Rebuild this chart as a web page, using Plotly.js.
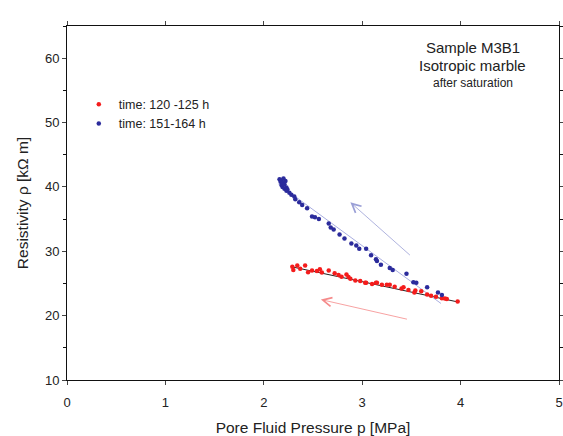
<!DOCTYPE html>
<html>
<head>
<meta charset="utf-8">
<script src="https://cdn.plot.ly/plotly-3.0.1.min.js"></script>
<style>
html,body{margin:0;padding:0;background:#fff;}
#chart{width:563px;height:436px;}
</style>
</head>
<body>
<div id="chart"></div>
<script>
// Series: time 120-125 h (red)
const redX = [2.29,2.30,2.34,2.37,2.42,2.45,2.49,2.54,2.57,2.59,2.66,2.72,2.76,2.79,2.84,2.86,2.88,2.93,2.98,3.03,3.04,3.10,3.14,3.15,3.20,3.25,3.28,3.33,3.40,3.42,3.47,3.53,3.54,3.60,3.66,3.70,3.75,3.81,3.84,3.86,3.97];
const redY = [27.6,27.1,27.8,27.3,27.8,26.75,27.0,26.95,27.2,26.7,27.0,26.6,26.3,26.05,26.4,26.0,25.75,25.45,25.4,25.1,25.1,24.9,25.1,25.1,24.8,24.8,24.8,24.5,24.2,24.4,24.0,23.6,23.9,23.8,23.3,23.1,22.95,22.7,22.65,22.6,22.2];
// Series: time 151-164 h (blue)
const blueX = [2.16,2.17,2.18,2.18,2.19,2.19,2.20,2.21,2.21,2.22,2.23,2.23,2.24,2.26,2.28,2.31,2.32,2.36,2.39,2.44,2.49,2.52,2.56,2.66,2.68,2.71,2.77,2.82,2.89,2.94,2.97,3.04,3.09,3.14,3.15,3.19,3.28,3.31,3.45,3.52,3.55,3.66,3.77,3.81];
const blueY = [41.2,40.8,41.0,40.3,40.6,40.0,41.3,40.4,39.7,40.9,39.9,39.4,39.6,39.1,38.8,38.5,38.1,37.6,37.2,36.7,35.4,35.3,35.0,34.3,33.7,33.4,32.6,32.0,31.2,30.9,30.4,30.4,29.4,28.75,28.5,27.9,27.4,27.1,26.5,25.2,25.1,24.4,23.6,23.2];
// Fit lines
const redFitX = [2.28, 3.98];
const redFitY = [27.6, 22.1];
const blueFitX = [2.15, 3.80];
const blueFitY = [40.4, 21.9];
// Direction arrows [tailX, tailY, headX, headY]
const blueArrow = [3.50, 29.2, 2.88, 37.6];
const redArrow = [3.47, 19.4, 2.58, 22.5];
// Labels
const seriesNames = ["time: 120 -125 h", "time: 151-164 h"];
const noteLines = ["Sample M3B1", "Isotropic marble", "after saturation"];
const xTicks = [0,1,2,3,4,5];
const yTicks = [10,20,30,40,50,60];

const FONT = "Liberation Sans, Arial, sans-serif";
const redC = "#f41c1c", blueC = "#2b2b9c";

const traces = [
  {x: redFitX, y: redFitY, mode: "lines", line: {color: "#222", width: 1}, showlegend: false, hoverinfo: "skip"},
  {x: blueFitX, y: blueFitY, mode: "lines", line: {color: "#a9aee0", width: 1}, showlegend: false, hoverinfo: "skip"},
  {x: redX, y: redY, mode: "markers", name: seriesNames[0], marker: {color: redC, size: 4.5}},
  {x: blueX, y: blueY, mode: "markers", name: seriesNames[1], marker: {color: blueC, size: 4.5}}
];

function arrow(a, color) {
  return {x: a[2], y: a[3], ax: a[0], ay: a[1], xref: "x", yref: "y", axref: "x", ayref: "y",
    showarrow: true, arrowhead: 5, arrowsize: 2.2, arrowwidth: 0.8, arrowcolor: color, text: ""};
}

const layout = {
  width: 563, height: 436,
  margin: {l: 67, r: 4, t: 26, b: 56},
  paper_bgcolor: "#fff", plot_bgcolor: "#fff",
  font: {family: FONT, color: "#222", size: 12},
  showlegend: true,
  legend: {x: 0.024, y: 0.82, xanchor: "left", yanchor: "top", bgcolor: "rgba(0,0,0,0)",
    font: {size: 12.5, family: FONT}, tracegroupgap: 0, itemwidth: 30},
  xaxis: {range: [0, 5], tickvals: xTicks, ticks: "outside", ticklen: 4, showgrid: false, zeroline: false,
    showline: true, linecolor: "#111", linewidth: 1, mirror: "ticks", ticklabelstandoff: 6,
    tickfont: {size: 13, family: FONT},
    title: {text: "Pore Fluid Pressure p [MPa]", font: {size: 15.5, family: FONT}, standoff: 14}},
  yaxis: {range: [10, 65], tickvals: yTicks, ticks: "outside", ticklen: 4, showgrid: false, zeroline: false,
    showline: true, linecolor: "#111", linewidth: 1, mirror: "ticks",
    minor: {dtick: 5, ticks: "outside", ticklen: 3, tickcolor: "#111"},
    tickfont: {size: 13, family: FONT},
    title: {text: "Resistivity ρ [kΩ m]", font: {size: 15.5, family: FONT}, standoff: 12}},
  annotations: [
    {text: noteLines[0], xref: "paper", yref: "paper", x: 0.825, y: 0.94, xanchor: "center", yanchor: "middle", showarrow: false, font: {size: 15, family: FONT}},
    {text: noteLines[1], xref: "paper", yref: "paper", x: 0.825, y: 0.888, xanchor: "center", yanchor: "middle", showarrow: false, font: {size: 15, family: FONT}},
    {text: noteLines[2], xref: "paper", yref: "paper", x: 0.825, y: 0.84, xanchor: "center", yanchor: "middle", showarrow: false, font: {size: 12, family: FONT}},
    arrow(blueArrow, "#9a9fd6"),
    arrow(redArrow, "#f58a8a")
  ]
};

Plotly.newPlot("chart", traces, layout, {displayModeBar: false, staticPlot: true});
</script>
</body>
</html>
